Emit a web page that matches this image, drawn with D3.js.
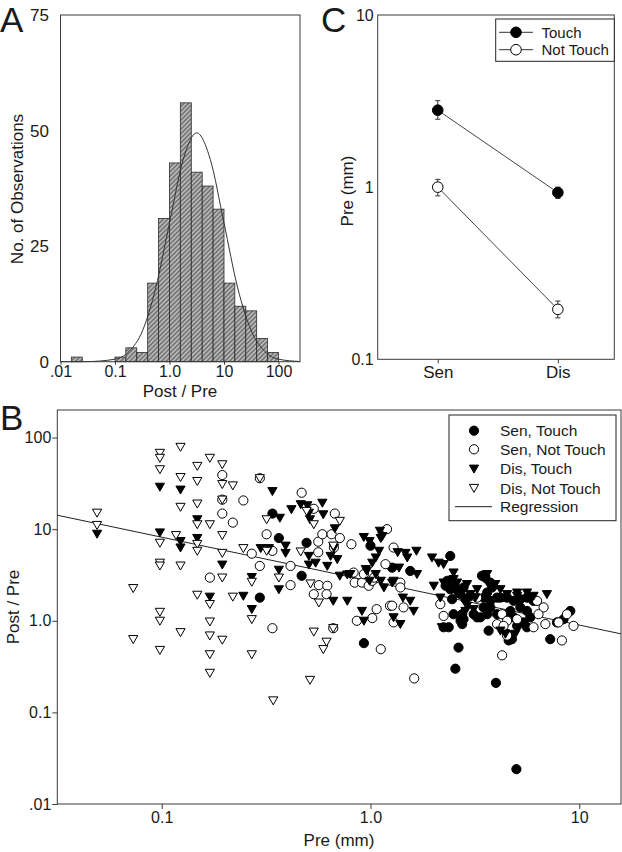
<!DOCTYPE html>
<html><head><meta charset="utf-8">
<script src="https://cdn.jsdelivr.net/npm/d3@7"></script>
<style>
body{margin:0;background:#fff}
svg{display:block}
</style>
</head><body>
<svg id="fig" width="622" height="852"></svg>
<script>
// ---------------- Panel A data (histogram of Post/Pre) ----------------
const histBinLow  = [0.0158,0.1,0.158,0.251,0.398,0.631,1.0,1.58,2.51,3.98,6.31,10,15.8,25.1,39.8,63.1];
const histBinHigh = [0.0251,0.158,0.251,0.398,0.631,1.0,1.58,2.51,3.98,6.31,10,15.8,25.1,39.8,63.1,100];
const histCounts  = [1,1,3,2,17,31,43,56,41,38,33,17,12,11,5,2];
const fitRatio = [0.01,0.03,0.1,0.18,0.32,0.56,1.0,1.78,3.16,5.62,10,17.8,31.6,56.2,100,248];
const fitCount = [0,0.02,0.55,2.2,6.7,16,30,43.7,49.5,43.7,30,16,6.7,2.2,0.55,0.04];
const histXTicks = [0.01,0.1,1,10,100];
const histXLabels = [".01","0.1","1.0","10","100"];
const histYTicks = [0,25,50,75];

// ---------------- Panel C data (means with error bars) ----------------
const groupNames = ["Sen","Dis"];
const touchMean = [2.8,0.93];
const touchUpper = [3.18,1.0];
const touchLower = [2.48,0.86];
const notTouchMean = [1.0,0.195];
const notTouchUpper = [1.11,0.218];
const notTouchLower = [0.89,0.174];
const cYTicks = [0.1,1,10];
const cYLabels = ["0.1","1","10"];

// ---------------- Panel B data ([Pre (mm), Post/Pre]) ----------------
const senTouch = [[0.295,1.79],[0.339,14.8],[0.364,8.0],[0.494,7.1],[0.468,3.1],[1.0,6.6],[1.27,3.8],[1.55,3.5],[2.41,5.1],[0.93,0.57],
[2.29,2.41],[2.41,2.21],[2.55,2.31],[2.33,2.73],[2.70,1.95],[3.01,1.87],[2.85,1.72],[2.46,1.72],[2.64,2.03],[2.79,2.31],
[2.75,1.18],[2.79,1.04],[2.50,1.18],[2.70,1.0],[3.24,1.09],[3.55,2.96],[3.75,2.61],[3.42,3.1],[3.62,2.03],[3.82,2.31],
[3.48,1.79],[3.75,1.65],[4.04,1.79],[3.75,1.40],[3.48,1.40],[4.51,1.79],[4.85,1.65],[5.22,1.72],[5.62,1.79],[6.04,1.65],
[4.19,1.79],[4.68,1.28],[5.22,1.40],[5.62,1.28],[5.83,1.09],[5.42,0.96],[5.04,0.88],[5.62,0.85],[3.12,1.18],[3.36,1.09],
[3.62,1.18],[4.04,1.18],[4.51,1.09],[4.85,1.09],[7.82,0.96],[9.06,1.28],[8.41,1.04],[3.68,0.78],[4.59,0.61],[4.51,0.72],
[4.76,0.63],[2.37,0.85],[2.24,0.85],[2.75,0.92],[7.26,0.63],[2.64,0.51],[2.55,0.30],[3.99,0.21],[5.0,0.024]];
const senNotTouch = [[0.170,2.96],[0.195,39],[0.195,21],[0.195,14.8],[0.219,11.8],[0.246,20.6],[0.270,5.4],[0.295,36],[0.295,3.97],[0.318,8.8],
[0.339,5.8],[0.339,0.83],[0.414,3.97],[0.414,2.45],[0.468,25],[0.535,16.7],[0.675,14.8],[0.562,7.3],[0.588,8.8],[0.651,8.8],
[0.713,8.0],[0.81,6.85],[0.668,6.3],[0.562,5.6],[1.20,10.0],[1.29,6.3],[1.18,4.15],[0.83,3.36],[0.84,2.61],[0.91,2.61],
[0.93,3.23],[0.98,2.41],[1.02,2.73],[1.04,2.96],[0.566,2.45],[0.621,2.41],[0.535,1.95],[0.616,1.95],[0.86,1.0],[1.02,1.07],
[1.07,1.34],[1.24,1.46],[1.29,0.96],[1.12,0.49],[1.62,0.235],[0.663,0.83],[1.39,2.61],[1.39,2.31],[1.44,1.40],[1.27,1.46],
[2.16,1.52],[2.24,1.13],[3.24,1.79],[4.27,1.18],[4.51,1.0],[5.04,1.04],[6.28,1.65],[6.75,1.40],[6.38,1.18],[6.88,0.92],
[7.96,0.96],[8.73,1.18],[9.39,0.88],[4.04,0.92],[4.34,0.88],[6.04,0.85],[4.51,0.69],[8.26,0.61],[4.27,0.42]];
const disTouch = [[0.049,8.9],[0.098,29],[0.098,9.2],[0.123,27],[0.123,7.4],[0.123,6.3],[0.148,12.8],[0.148,8.0],[0.170,1.83],[0.195,4.1],
[0.246,1.87],[0.270,1.34],[0.270,3.0],[0.339,26],[0.364,3.6],[0.364,2.2],[0.368,13.3],[0.392,6.6],[0.392,5.5],[0.298,6.2],
[0.326,6.2],[0.418,16.5],[0.463,18.7],[0.498,18.2],[0.513,12.8],[0.507,15.1],[0.588,19.4],[0.594,14.5],[0.675,10.2],[0.507,5.1],
[0.546,4.3],[0.507,4.1],[0.621,3.97],[0.644,5.1],[0.693,4.7],[0.713,3.1],[0.774,3.2],[0.663,1.65],[0.774,1.65],[0.668,6.3],
[0.929,8.2],[0.99,7.4],[1.12,8.0],[1.11,9.6],[1.14,8.4],[1.06,4.9],[1.10,5.8],[1.02,4.3],[0.95,3.66],[0.96,3.5],
[1.06,3.23],[0.80,3.23],[0.99,2.73],[1.12,2.73],[1.16,2.31],[1.27,2.61],[0.91,1.28],[0.93,1.0],[1.29,1.09],[1.39,0.92],
[1.35,5.6],[1.47,5.5],[1.66,5.8],[1.50,4.9],[1.37,3.8],[1.67,3.23],[1.29,2.73],[1.43,1.79],[1.55,1.65],[1.61,1.28],
[1.97,4.9],[2.12,4.3],[2.24,4.15],[2.50,3.36],[2.01,2.41],[2.24,2.61],[2.50,2.85],[2.60,2.61],[2.46,2.41],[2.90,2.51],
[3.24,2.21],[2.16,1.79],[2.85,1.28],[2.90,1.46],[3.12,1.34],[3.01,1.95],[3.18,1.79],[3.62,3.23],[3.55,2.85],[3.96,2.51],
[4.19,2.21],[4.51,1.95],[4.34,1.79],[5.04,1.87],[5.83,1.72],[5.04,2.03],[5.62,2.03],[6.04,1.87],[7.0,1.95],[4.19,0.78],
[4.43,0.72],[4.94,0.72],[2.20,0.85]];
const disNotTouch = [[0.049,15.1],[0.049,11.1],[0.073,2.27],[0.073,0.63],[0.098,68],[0.098,60],[0.098,45],[0.098,7.1],[0.098,4.3],[0.098,4.0],
[0.098,1.25],[0.098,1.0],[0.098,0.48],[0.123,79],[0.123,37],[0.123,17.5],[0.117,8.6],[0.123,4.0],[0.123,0.75],[0.148,49],
[0.148,33.5],[0.148,19],[0.148,11.3],[0.148,6.9],[0.148,5.8],[0.148,1.92],[0.170,60],[0.170,11.3],[0.170,1.52],[0.170,0.98],
[0.170,0.69],[0.170,0.43],[0.170,0.27],[0.195,51],[0.195,31],[0.195,21],[0.195,8.6],[0.195,5.5],[0.195,2.96],[0.195,0.62],
[0.219,30],[0.219,1.83],[0.246,6.2],[0.270,2.66],[0.270,1.04],[0.270,0.43],[0.295,36],[0.318,12.8],[0.318,5.8],[0.342,0.135],
[0.364,2.96],[0.463,5.7],[0.494,15.8],[0.516,2.55],[0.535,11.3],[0.535,0.76],[0.566,1.58],[0.616,0.59],[0.594,0.49],[0.663,6.6],
[0.663,0.83],[0.713,12.3],[0.513,0.226]];
const regressionLine = [[0.0316,14.2],[15.85,0.72]];
const bXTicks = [0.1,1,10];
const bXLabels = ["0.1","1.0","10"];
const bYTicks = [0.01,0.1,1,10,100];
const bYLabels = [".01","0.1","1.0","10","100"];
const seriesNames = ["Sen, Touch","Sen, Not Touch","Dis, Touch","Dis, Not Touch","Regression"];

// ---------------- drawing ----------------
const FONT = '"Liberation Sans", Arial, Helvetica, sans-serif';
const AX = "#3a3a3a";
const svg = d3.select("#fig");
svg.append("rect").attr("width",622).attr("height",852).attr("fill","#fff");
const defs = svg.append("defs");
const pat = defs.append("pattern").attr("id","hatch").attr("patternUnits","userSpaceOnUse")
  .attr("width",3.2).attr("height",3.2).attr("patternTransform","rotate(45)");
pat.append("rect").attr("width",3.2).attr("height",3.2).attr("fill","#b8b8b8");
pat.append("line").attr("x1",1.6).attr("y1",0).attr("x2",1.6).attr("y2",3.2).attr("stroke","#2a2a2a").attr("stroke-width",0.75);

function styleAxis(g, fs){
  g.select(".domain").remove();
  g.selectAll("line").attr("stroke",AX);
  g.selectAll("text").attr("font-size",fs).attr("fill","#1a1a1a").attr("font-family",FONT);
}
function label(txt,x,y,fs,opts={}){
  const t = svg.append("text").attr("x",x).attr("y",y).attr("font-size",fs).attr("font-family",FONT)
    .attr("fill","#1a1a1a").attr("text-anchor",opts.anchor||"middle").text(txt);
  if(opts.rotate) t.attr("transform",`rotate(-90,${x},${y})`);
  return t;
}

// ===== Panel A =====
const ax = d3.scaleLog().domain([0.01,248]).range([60.5,300]);
const ay = d3.scaleLinear().domain([0,75]).range([361.7,15]);
const gA = svg.append("g");
gA.selectAll("rect.bar").data(histCounts).join("rect").attr("class","bar")
  .attr("x",(d,i)=>ax(histBinLow[i])).attr("width",(d,i)=>ax(histBinHigh[i])-ax(histBinLow[i]))
  .attr("y",d=>ay(d)).attr("height",d=>ay(0)-ay(d))
  .attr("fill","url(#hatch)").attr("stroke","#2a2a2a").attr("stroke-width",0.8);
gA.append("path").datum(fitCount)
  .attr("d",d3.line().x((d,i)=>ax(fitRatio[i])).y(d=>ay(d)).curve(d3.curveMonotoneX))
  .attr("fill","none").attr("stroke","#333").attr("stroke-width",1);
gA.append("rect").attr("x",60.5).attr("y",15).attr("width",300-60.5).attr("height",361.7-15)
  .attr("fill","none").attr("stroke",AX).attr("stroke-width",1);
gA.append("g").attr("transform","translate(0,361.7)")
  .call(d3.axisBottom(ax).tickValues(histXTicks).tickFormat((d,i)=>histXLabels[i]).tickSize(3).tickPadding(1))
  .call(g=>styleAxis(g,16));
gA.append("g").attr("transform","translate(60.5,0)")
  .call(d3.axisLeft(ay).tickValues(histYTicks).tickSize(0).tickPadding(11.5))
  .call(g=>styleAxis(g,17));
label("Post / Pre",180,397,17);
label("No. of Observations",23,189,17,{rotate:true});
label("A",0,31.7,35,{anchor:"start"});

// ===== Panel C =====
const cx = d3.scaleLinear().domain([0.5,2.47]).range([377.7,614.3]);
const cy = d3.scaleLog().domain([0.1,10]).range([359.3,15]);
const gC = svg.append("g");
gC.append("rect").attr("x",377.7).attr("y",15).attr("width",614.3-377.7).attr("height",359.3-15)
  .attr("fill","none").attr("stroke",AX).attr("stroke-width",1);
gC.append("g").attr("transform","translate(0,359.3)")
  .call(d3.axisBottom(cx).tickValues([1,2]).tickFormat((d,i)=>groupNames[i]).tickSize(4).tickPadding(3))
  .call(g=>styleAxis(g,17));
gC.append("g").attr("transform","translate(377.7,0)")
  .call(d3.axisLeft(cy).tickValues(cYTicks).tickFormat((d,i)=>cYLabels[i]).tickSize(0).tickPadding(4))
  .call(g=>styleAxis(g,16));
const cSeries = [
  {mean:touchMean,up:touchUpper,lo:touchLower,fill:"#000"},
  {mean:notTouchMean,up:notTouchUpper,lo:notTouchLower,fill:"#fff"}
];
cSeries.forEach(s=>{
  const pts = s.mean.map((m,i)=>({x:i+1,m,up:s.up[i],lo:s.lo[i]}));
  gC.append("path").datum(pts).attr("d",d3.line().x(d=>cx(d.x)).y(d=>cy(d.m)))
    .attr("fill","none").attr("stroke","#444").attr("stroke-width",1);
  pts.forEach(d=>{
    gC.append("line").attr("x1",cx(d.x)).attr("x2",cx(d.x)).attr("y1",cy(d.up)).attr("y2",cy(d.lo)).attr("stroke","#333");
    [d.up,d.lo].forEach(v=>gC.append("line").attr("x1",cx(d.x)-2.6).attr("x2",cx(d.x)+2.6)
      .attr("y1",cy(v)).attr("y2",cy(v)).attr("stroke","#333"));
  });
  gC.selectAll(null).data(pts).join("circle").attr("cx",d=>cx(d.x)).attr("cy",d=>cy(d.m)).attr("r",5.3)
    .attr("fill",s.fill).attr("stroke","#000").attr("stroke-width",1);
});
// legend C
gC.append("rect").attr("x",495.7).attr("y",19).attr("width",614.3-495.7).attr("height",61.3-19)
  .attr("fill","#fff").attr("stroke","#222").attr("stroke-width",1);
[["Touch","#000",32.3],["Not Touch","#fff",49.7]].forEach(([t,f,y])=>{
  gC.append("line").attr("x1",499).attr("x2",533).attr("y1",y).attr("y2",y).attr("stroke","#333");
  gC.append("circle").attr("cx",516).attr("cy",y).attr("r",5.3).attr("fill",f).attr("stroke","#000");
  gC.append("text").attr("x",541.5).attr("y",y+5.3).attr("font-size",15).attr("font-family",FONT).attr("fill","#1a1a1a").text(t);
});
label("Pre (mm)",353,191,17,{rotate:true});
label("C",321,31.7,35,{anchor:"start"});

// ===== Panel B =====
const bx = d3.scaleLog().domain([0.0316,15.85]).range([57.3,621]);
const by = d3.scaleLog().domain([0.01,200]).range([804,410]);
const gB = svg.append("g");
gB.append("rect").attr("x",57.3).attr("y",410).attr("width",621-57.3).attr("height",804-410)
  .attr("fill","none").attr("stroke",AX).attr("stroke-width",1);
gB.append("g").attr("transform","translate(0,804)")
  .call(d3.axisBottom(bx).tickValues(bXTicks).tickFormat((d,i)=>bXLabels[i]).tickSize(5).tickPadding(3))
  .call(g=>styleAxis(g,16));
gB.append("g").attr("transform","translate(57.3,0)")
  .call(d3.axisLeft(by).tickValues(bYTicks).tickFormat((d,i)=>bYLabels[i]).tickSize(5).tickPadding(1))
  .call(g=>styleAxis(g,16));
gB.append("path").datum(regressionLine).attr("d",d3.line().x(d=>bx(d[0])).y(d=>by(d[1])))
  .attr("stroke","#222").attr("stroke-width",1).attr("fill","none");
const triPath = "M-4.6,-3.6L4.6,-3.6L0,4.4Z";
function drawCircles(data,fill){
  gB.append("g").selectAll("circle").data(data).join("circle")
    .attr("cx",d=>bx(d[0])).attr("cy",d=>by(d[1])).attr("r",4.6)
    .attr("fill",fill).attr("stroke","#000").attr("stroke-width",1);
}
function drawTris(data,fill){
  gB.append("g").selectAll("path").data(data).join("path")
    .attr("d",triPath).attr("transform",d=>`translate(${bx(d[0])},${by(d[1])})`)
    .attr("fill",fill).attr("stroke","#000").attr("stroke-width",1);
}
drawCircles(senTouch,"#000");
drawCircles(senNotTouch,"#fff");
drawTris(disTouch,"#000");
drawTris(disNotTouch,"#fff");
// legend B
gB.append("rect").attr("x",449).attr("y",415).attr("width",616-449).attr("height",520.7-415)
  .attr("fill","#fff").attr("stroke","#222").attr("stroke-width",1);
const legY = [430.7,449.3,468.7,488,506.7];
seriesNames.forEach((nm,i)=>{
  const y = legY[i];
  if(i<2){
    gB.append("circle").attr("cx",474).attr("cy",y).attr("r",4.6).attr("fill",i===0?"#000":"#fff").attr("stroke","#000");
  } else if(i<4){
    gB.append("path").attr("d",triPath).attr("transform",`translate(474,${y})`).attr("fill",i===2?"#000":"#fff").attr("stroke","#000");
  } else {
    gB.append("line").attr("x1",455).attr("x2",492).attr("y1",y).attr("y2",y).attr("stroke","#222");
  }
  gB.append("text").attr("x",500).attr("y",y+5.5).attr("font-size",15.5).attr("font-family",FONT).attr("fill","#1a1a1a").text(nm);
});
label("Pre (mm)",339,846,17);
label("Post / Pre",18.5,607,17,{rotate:true});
label("B",0,430,35,{anchor:"start"});
</script>
</body></html>
